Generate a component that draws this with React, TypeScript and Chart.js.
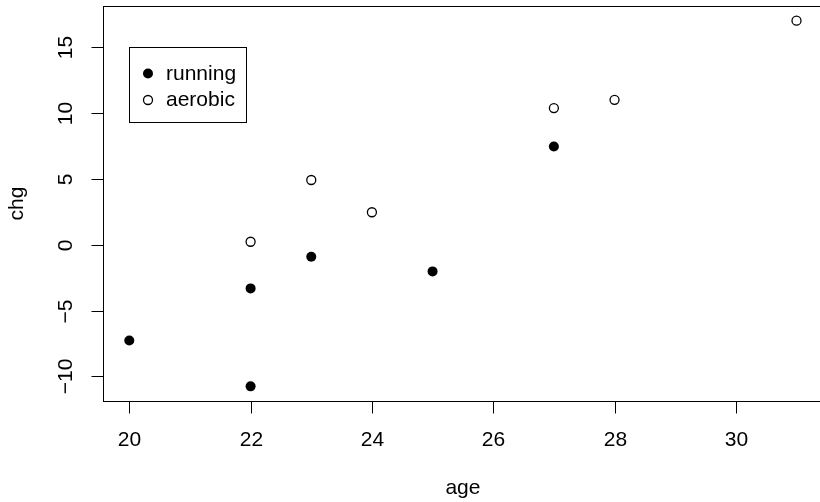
import React, { useEffect, useRef } from "react";
import { Chart, registerables } from "chart.js";

Chart.register(...registerables);

const runningAge = [20, 22, 22, 23, 25, 27];
const runningChg = [-7.28, -10.76, -3.32, -0.92, -2.03, 7.45];
const aerobicAge = [22, 23, 24, 27, 28, 31];
const aerobicChg = [0.22, 4.91, 2.46, 10.37, 11.0, 17.01];
const seriesNames = ["running", "aerobic"];
const xTicks = [20, 22, 24, 26, 28, 30];
const xTickLabels = ["20", "22", "24", "26", "28", "30"];
const yTicks = [-10, -5, 0, 5, 10, 15];
const yTickLabels = ["\u221210", "\u22125", "0", "5", "10", "15"];
const xTitle = "age";
const yTitle = "chg";

function rRange(vals: number[]): [number, number] {
  const mn = Math.min(...vals);
  const mx = Math.max(...vals);
  const pad = (mx - mn) * 0.04;
  return [mn - pad, mx + pad];
}

const FONT = '21px "Liberation Sans", Arial, sans-serif';

const axesPlugin = {
  id: "rAxes",
  afterDraw(chart: any) {
    const ctx = chart.ctx;
    const { left, top, right, bottom } = chart.chartArea;
    const xs = chart.scales.x;
    const ys = chart.scales.y;
    ctx.save();
    ctx.strokeStyle = "#000";
    ctx.fillStyle = "#000";
    ctx.lineWidth = 1;
    const L = Math.round(left) + 0.5;
    const T = Math.round(top) + 0.5;
    const B = Math.round(bottom) + 0.5;
    const R = Math.round(right) + 0.5;
    ctx.strokeRect(L, T, R - L, B - T);
    ctx.font = FONT;
    ctx.textAlign = "center";
    ctx.textBaseline = "middle";
    xTicks.forEach((v, i) => {
      const px = Math.round(xs.getPixelForValue(v)) + 0.5;
      ctx.beginPath();
      ctx.moveTo(px, B);
      ctx.lineTo(px, B + 12);
      ctx.stroke();
      ctx.fillText(xTickLabels[i], px, B + 39);
    });
    yTicks.forEach((v, i) => {
      const py = Math.round(ys.getPixelForValue(v)) + 0.5;
      ctx.beginPath();
      ctx.moveTo(L - 12, py);
      ctx.lineTo(L, py);
      ctx.stroke();
      ctx.save();
      ctx.translate(L - 37, py);
      ctx.rotate(-Math.PI / 2);
      ctx.fillText(yTickLabels[i], 0, 0);
      ctx.restore();
    });
    // axis titles
    ctx.fillText(xTitle, (left + right) / 2, B + 87);
    ctx.save();
    ctx.translate(17, (top + bottom) / 2);
    ctx.rotate(-Math.PI / 2);
    ctx.fillText(yTitle, 0, 0);
    ctx.restore();
    // legend
    ctx.strokeRect(129.5, 47.5, 117, 75);
    ctx.beginPath();
    ctx.arc(148, 73.5, 5, 0, Math.PI * 2);
    ctx.fill();
    ctx.beginPath();
    ctx.lineWidth = 1.3;
    ctx.arc(148, 100, 4.5, 0, Math.PI * 2);
    ctx.stroke();
    ctx.textAlign = "left";
    ctx.fillText(seriesNames[0], 166, 74);
    ctx.fillText(seriesNames[1], 166, 100);
    ctx.restore();
  },
};

export default function App() {
  const ref = useRef<HTMLCanvasElement | null>(null);
  useEffect(() => {
    if (!ref.current) return;
    const [xmin, xmax] = rRange([...runningAge, ...aerobicAge]);
    const [ymin, ymax] = rRange([...runningChg, ...aerobicChg]);
    const chart = new Chart(ref.current, {
      type: "scatter",
      data: {
        datasets: [
          {
            label: seriesNames[0],
            data: runningAge.map((a, i) => ({ x: a, y: runningChg[i] })),
            backgroundColor: "#000",
            borderColor: "#000",
            borderWidth: 0,
            pointRadius: 5,
          },
          {
            label: seriesNames[1],
            data: aerobicAge.map((a, i) => ({ x: a, y: aerobicChg[i] })),
            backgroundColor: "rgba(255,255,255,0)",
            borderColor: "#000",
            borderWidth: 1.3,
            pointRadius: 4.5,
          },
        ],
      },
      options: {
        responsive: false,
        animation: false,
        devicePixelRatio: 1,
        layout: { padding: { left: 102.6, top: 6, right: 6.8, bottom: 101 } },
        plugins: { legend: { display: false }, tooltip: { enabled: false } },
        scales: {
          x: { type: "linear", min: xmin, max: xmax, display: false },
          y: { type: "linear", min: ymin, max: ymax, display: false },
        },
      },
      plugins: [axesPlugin],
    });
    return () => chart.destroy();
  }, []);
  return (
    <div
      style={{
        position: "fixed",
        left: 0,
        top: 0,
        width: 820,
        height: 502,
        overflow: "hidden",
        background: "#fff",
      }}
    >
      <canvas ref={ref} width={830} height={502} style={{ width: 830, height: 502, display: "block" }} />
    </div>
  );
}
